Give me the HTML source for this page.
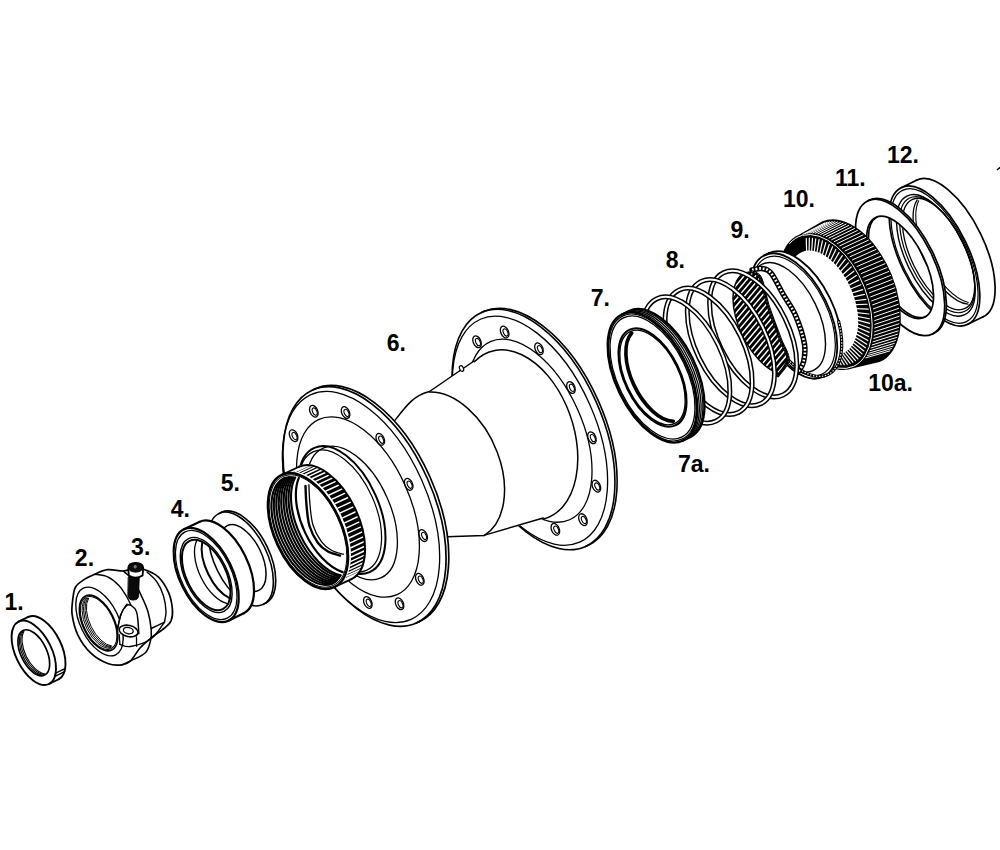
<!DOCTYPE html>
<html><head><meta charset="utf-8"><style>html,body{margin:0;padding:0;background:#fff}svg{display:block}</style></head>
<body><svg width="1000" height="850" viewBox="0 0 1000 850" stroke-linejoin="round" stroke-linecap="round">
<rect width="1000" height="850" fill="#fff"/>
<path d="M967.82 324.31A76 34.2 64 0 1 901.18 187.69L916.46 180.24A76 34.2 64 0 1 983.1 316.86Z" fill="#fff" fill-rule="evenodd" stroke="none"/>
<line x1="967.82" y1="324.31" x2="983.1" y2="316.86" stroke="#000" stroke-width="1.7"/>
<line x1="901.18" y1="187.69" x2="916.46" y2="180.24" stroke="#000" stroke-width="1.7"/>
<path d="M916.46 180.24A76 34.2 64 0 1 983.1 316.86" fill="none" stroke="#000" stroke-width="1.7"/>
<ellipse cx="934.5" cy="256" rx="76" ry="34.2" transform="rotate(64 934.5 256)" fill="none" stroke="#000" stroke-width="1.7"/>
<ellipse cx="934.5" cy="256" rx="73" ry="32.85" transform="rotate(64 934.5 256)" fill="none" stroke="#000" stroke-width="1.2"/>
<ellipse cx="935.85" cy="255.34" rx="66" ry="29.7" transform="rotate(64 935.85 255.34)" fill="none" stroke="#000" stroke-width="1.4"/>
<ellipse cx="937.2" cy="254.68" rx="63" ry="28.35" transform="rotate(64 937.2 254.68)" fill="none" stroke="#000" stroke-width="1.2"/>
<ellipse cx="938.54" cy="254.03" rx="60.5" ry="27.23" transform="rotate(64 938.54 254.03)" fill="none" stroke="#000" stroke-width="1.3"/>
<path d="M967.99 304.14A60 27 64 0 1 917.19 199.97" fill="none" stroke="#000" stroke-width="1.3"/>
<path d="M968.29 302.46A60 27 64 0 1 918.69 200.77" fill="none" stroke="#000" stroke-width="1.1"/>
<path d="M932.54 333.91A74 34.04 64 0 1 867.66 200.89L869.46 200.01A74 34.04 64 0 1 934.34 333.03ZM876.69 217.12A55.5 25.53 64 0 1 925.31 316.81L925.31 316.81A55.5 25.53 64 0 1 876.69 217.12Z" fill="#fff" fill-rule="evenodd" stroke="none"/>
<line x1="932.54" y1="333.91" x2="934.34" y2="333.03" stroke="#000" stroke-width="1.7"/>
<line x1="867.66" y1="200.89" x2="869.46" y2="200.01" stroke="#000" stroke-width="1.7"/>
<path d="M869.46 200.01A74 34.04 64 0 1 934.34 333.03" fill="none" stroke="#000" stroke-width="1.7"/>
<ellipse cx="900.1" cy="267.4" rx="74" ry="34.04" transform="rotate(64 900.1 267.4)" fill="none" stroke="#000" stroke-width="1.7"/>
<ellipse cx="900.1" cy="267.4" rx="55.5" ry="25.53" transform="rotate(64 900.1 267.4)" fill="none" stroke="#000" stroke-width="1.7"/>
<path d="M925.31 316.81A55.5 25.53 64 0 1 876.69 217.12" fill="none" stroke="#000" stroke-width="1.7"/>
<path d="M852.97 368.26A72 41.76 68 0 1 799.03 234.74L822.53 221.13A76 44.08 68 0 1 879.47 362.07ZM842.92 353.03A54.5 31.61 68 1 1 802.08 251.97A54.5 31.61 68 1 1 842.92 353.03" fill="#000" fill-rule="evenodd" stroke="none"/>
<path d="M802.86 234.31L824.65 223.01M805.21 233.62L827.08 222.3M807.64 233.18L829.6 221.84M810.14 232.97L832.19 221.62M812.71 232.99L834.84 221.65M815.33 233.26L837.56 221.92M818 233.76L840.32 222.44M820.7 234.49L843.11 223.2M823.43 235.45L845.94 224.2M826.18 236.65L848.78 225.43M828.93 238.06L851.63 226.9M831.68 239.7L854.48 228.59M834.42 241.55L857.32 230.51M837.14 243.6L860.13 232.63M839.83 245.86L862.92 234.97M842.48 248.31L865.66 237.5M845.07 250.94L868.35 240.22M847.61 253.74L870.97 243.13M850.08 256.71L873.53 246.2M852.48 259.83L876.01 249.43M854.79 263.09L878.4 252.81M857.01 266.49L880.7 256.33M859.12 270L882.89 259.96M861.13 273.63L884.97 263.71M863.03 277.34L886.93 267.56M864.8 281.14L888.77 271.49M866.45 285.01L890.47 275.49M867.96 288.93L892.04 279.55M869.33 292.89L893.46 283.65M870.56 296.87L894.73 287.78M871.64 300.88L895.85 291.92M872.57 304.88L896.81 296.06M873.34 308.86L897.61 300.19M873.96 312.82L898.25 304.28M874.41 316.73L898.72 308.33M874.71 320.58L899.03 312.33M874.84 324.37L899.16 316.25M874.81 328.07L899.13 320.08M874.62 331.68L898.93 323.81M874.26 335.18L898.56 327.43M873.75 338.55L898.03 330.93M873.07 341.79L897.33 334.28M872.24 344.89L896.46 337.49M871.25 347.84L895.44 340.54M870.11 350.61L894.27 343.41M868.83 353.22L892.94 346.11M867.4 355.63L891.46 348.61M865.84 357.86L889.84 350.91" stroke="#fff" stroke-width="1.0" fill="none"/>
<path d="M806.63 251.76L806.27 238.44M809.1 251.56L809.34 238.18M811.65 251.66L812.51 238.3M814.26 252.06L815.76 238.8M816.93 252.77L819.08 239.68M819.63 253.77L822.43 240.93M822.34 255.07L825.8 242.54M825.06 256.65L829.18 244.51M827.76 258.51L832.54 246.82M830.43 260.63L835.85 249.46M833.05 263.01L839.11 252.41M835.61 265.62L842.29 255.66M838.09 268.45L845.37 259.18M840.47 271.49L848.34 262.96M842.75 274.72L851.17 266.96M844.91 278.11L853.85 271.18M846.93 281.64L856.36 275.58M848.8 285.31L858.69 280.13M850.52 289.07L860.83 284.81M852.07 292.92L862.75 289.59M853.44 296.82L864.46 294.44M854.62 300.76L865.93 299.34M855.62 304.71L867.16 304.25M856.41 308.65L868.15 309.14M857 312.55L868.88 313.99M857.38 316.38L869.36 318.76M857.55 320.14L869.57 323.42M857.51 323.79L869.52 327.96M857.27 327.31L869.21 332.34M856.81 330.68L868.64 336.53M856.14 333.88L867.82 340.51M855.28 336.9L866.74 344.26M854.22 339.71L865.42 347.75M852.96 342.29L863.87 350.96M851.53 344.63L862.08 353.87M849.92 346.73L860.08 356.47M848.14 348.55L857.87 358.74M846.21 350.1L855.47 360.67M844.14 351.37L852.9 362.24M841.94 352.34L850.16 363.44M839.62 353.01L847.28 364.28M837.2 353.37L844.27 364.73M834.69 353.43L841.15 364.81M832.11 353.19L837.94 364.51M829.47 352.64L834.66 363.82M826.78 351.79L831.32 362.77M824.08 350.64L827.96 361.34M821.36 349.21L824.58 359.56M818.65 347.49L821.21 357.43M815.96 345.51L817.87 354.96M813.31 343.26L814.58 352.17M810.72 340.77L811.36 349.07M808.2 338.05L808.22 345.69M805.76 335.12L805.19 342.04M803.42 331.99L802.29 338.15M801.2 328.68L799.53 334.05" stroke="#fff" stroke-width="1.2" fill="none"/>
<path d="M789.57 243.58A70.5 40.89 68 1 1 804.19 344.8" fill="none" stroke="#fff" stroke-width="1.0"/>
<path d="M823.59 376.67A67.5 35.1 64 0 1 764.41 255.33L768.9 253.14A67.5 35.1 64 0 1 828.08 374.48Z" fill="#fff" fill-rule="evenodd" stroke="none"/>
<line x1="823.59" y1="376.67" x2="828.08" y2="374.48" stroke="#000" stroke-width="1.8"/>
<line x1="764.41" y1="255.33" x2="768.9" y2="253.14" stroke="#000" stroke-width="1.8"/>
<path d="M768.9 253.14A67.5 35.1 64 0 1 828.08 374.48" fill="none" stroke="#000" stroke-width="1.8"/>
<ellipse cx="794" cy="316" rx="67.5" ry="35.1" transform="rotate(64 794 316)" fill="none" stroke="#000" stroke-width="1.8"/>
<ellipse cx="794" cy="316" rx="64.5" ry="33.54" transform="rotate(64 794 316)" fill="none" stroke="#000" stroke-width="1.2"/>
<ellipse cx="787.7" cy="317.3" rx="59" ry="30.68" transform="rotate(64 787.7 317.3)" fill="none" stroke="#000" stroke-width="1.4"/>
<path d="M838.62 321.45A67.5 35.1 64 0 1 779.81 350.13" fill="none" stroke="#000" stroke-width="3.2"/>
<path d="M838.62 321.45A67.5 35.1 64 0 1 779.81 350.13" fill="none" stroke="#fff" stroke-width="1.2" stroke-dasharray="1.4 1.6" stroke-linecap="butt"/>
<path d="M752 270C753.67 269.75 758.83 268 762 268.5C765.17 269 767.47 268.68 771 273C774.53 277.32 779.1 287.3 783.2 294.4C787.3 301.5 792.07 307.37 795.6 315.6C799.13 323.83 803.08 336.07 804.4 343.8C805.72 351.53 804.57 357.3 803.5 362C802.43 366.7 798.92 370.33 798 372" fill="none" stroke="#000" stroke-width="5.5"/>
<path d="M752 270C753.67 269.75 758.83 268 762 268.5C765.17 269 767.47 268.68 771 273C774.53 277.32 779.1 287.3 783.2 294.4C787.3 301.5 792.07 307.37 795.6 315.6C799.13 323.83 803.08 336.07 804.4 343.8C805.72 351.53 804.57 357.3 803.5 362C802.43 366.7 798.92 370.33 798 372" fill="none" stroke="#fff" stroke-width="2.6" stroke-dasharray="1.8 1.8" stroke-linecap="butt"/>
<clipPath id="clip1"><path d="M777.53 373A55.4 28.81 64 0 1 751.61 271.83C753.02 272.63 757.82 272.57 760.6 278.3C763.38 284.03 764.88 295.7 768.2 305.9C771.52 316.1 777.18 330.58 780.5 339.5C783.82 348.42 788.52 353.38 788.1 359.4C787.68 365.42 779.68 372.9 778 375.6Z"/></clipPath>
<g clip-path="url(#clip1)">
<path d="M777.53 373A55.4 28.81 64 0 1 751.61 271.83C753.02 272.63 757.82 272.57 760.6 278.3C763.38 284.03 764.88 295.7 768.2 305.9C771.52 316.1 777.18 330.58 780.5 339.5C783.82 348.42 788.52 353.38 788.1 359.4C787.68 365.42 779.68 372.9 778 375.6Z" fill="#000"/>
<path d="M573.1 336.02L742.92 133.63M576.47 338.85L746.29 136.46M579.84 341.67L749.66 139.29M583.21 344.5L753.03 142.12M586.58 347.33L756.41 144.94M589.95 350.16L759.78 147.77M593.32 352.99L763.15 150.6M596.69 355.81L766.52 153.43M600.07 358.64L769.89 156.26M603.44 361.47L773.26 159.08M606.81 364.3L776.63 161.91M610.18 367.13L780 164.74M613.55 369.96L783.37 167.57M616.92 372.78L786.74 170.4M620.29 375.61L790.11 173.23M623.66 378.44L793.48 176.05M627.03 381.27L796.85 178.88M630.4 384.1L800.22 181.71M633.77 386.93L803.59 184.54M637.14 389.75L806.96 187.37M640.51 392.58L810.33 190.2M643.88 395.41L813.71 193.02M647.25 398.24L817.08 195.85M650.62 401.07L820.45 198.68M653.99 403.9L823.82 201.51M657.37 406.72L827.19 204.34M660.74 409.55L830.56 207.17M664.11 412.38L833.93 209.99M667.48 415.21L837.3 212.82M670.85 418.04L840.67 215.65M674.22 420.87L844.04 218.48M677.59 423.69L847.41 221.31M680.96 426.52L850.78 224.13M684.33 429.35L854.15 226.96M687.7 432.18L857.52 229.79M691.07 435.01L860.89 232.62M694.44 437.83L864.26 235.45M697.81 440.66L867.63 238.28M701.18 443.49L871.01 241.1M704.55 446.32L874.38 243.93M707.92 449.15L877.75 246.76M711.29 451.98L881.12 249.59M714.67 454.8L884.49 252.42M718.04 457.63L887.86 255.25M721.41 460.46L891.23 258.07M724.78 463.29L894.6 260.9M728.15 466.12L897.97 263.73M731.52 468.95L901.34 266.56M734.89 471.77L904.71 269.39M738.26 474.6L908.08 272.22M741.63 477.43L911.45 275.04M745 480.26L914.82 277.87M748.37 483.09L918.19 280.7M751.74 485.92L921.56 283.53M755.11 488.74L924.93 286.36M758.48 491.57L928.31 289.19M761.85 494.4L931.68 292.01M765.22 497.23L935.05 294.84M768.59 500.06L938.42 297.67M771.97 502.88L941.79 300.5M775.34 505.71L945.16 303.33M778.71 508.54L948.53 306.15M782.08 511.37L951.9 308.98" stroke="#fff" stroke-width="1.5" fill="none"/>
</g>
<path d="M751.5 271.5C753.02 272.63 757.82 272.57 760.6 278.3C763.38 284.03 764.88 295.7 768.2 305.9C771.52 316.1 777.18 330.58 780.5 339.5C783.82 348.42 788.52 353.38 788.1 359.4C787.68 365.42 779.68 372.9 778 375.6" fill="none" stroke="#000" stroke-width="3.2" />
<path d="M751.5 271.5C753.02 272.63 757.82 272.57 760.6 278.3C763.38 284.03 764.88 295.7 768.2 305.9C771.52 316.1 777.18 330.58 780.5 339.5C783.82 348.42 788.52 353.38 788.1 359.4C787.68 365.42 779.68 372.9 778 375.6" fill="none" stroke="#fff" stroke-width="1.2" stroke-dasharray="1.5 1.7" stroke-linecap="butt"/>
<path d="M777.53 373A55.4 28.81 64 0 1 751.61 271.83C753.02 272.63 757.82 272.57 760.6 278.3C763.38 284.03 764.88 295.7 768.2 305.9C771.52 316.1 777.18 330.58 780.5 339.5C783.82 348.42 788.52 353.38 788.1 359.4C787.68 365.42 779.68 372.9 778 375.6Z" fill="none" stroke="#000" stroke-width="1.4"/>
<ellipse cx="753.2" cy="333.9" rx="68" ry="35.36" transform="rotate(64 753.2 333.9)" fill="none" stroke="#000" stroke-width="5.0"/>
<ellipse cx="753.2" cy="333.9" rx="68" ry="35.36" transform="rotate(64 753.2 333.9)" fill="none" stroke="#fff" stroke-width="2.0"/>
<ellipse cx="730.9" cy="342.6" rx="68" ry="35.36" transform="rotate(64 730.9 342.6)" fill="none" stroke="#000" stroke-width="5.0"/>
<ellipse cx="730.9" cy="342.6" rx="68" ry="35.36" transform="rotate(64 730.9 342.6)" fill="none" stroke="#fff" stroke-width="2.0"/>
<ellipse cx="708.6" cy="351.3" rx="68" ry="35.36" transform="rotate(64 708.6 351.3)" fill="none" stroke="#000" stroke-width="5.0"/>
<ellipse cx="708.6" cy="351.3" rx="68" ry="35.36" transform="rotate(64 708.6 351.3)" fill="none" stroke="#fff" stroke-width="2.0"/>
<ellipse cx="686.3" cy="360" rx="68" ry="35.36" transform="rotate(64 686.3 360)" fill="none" stroke="#000" stroke-width="5.0"/>
<ellipse cx="686.3" cy="360" rx="68" ry="35.36" transform="rotate(64 686.3 360)" fill="none" stroke="#fff" stroke-width="2.0"/>
<path d="M683.19 440.42A70 36.4 64 0 1 621.81 314.58L629 311.08A70 36.4 64 0 1 690.38 436.91Z" fill="#fff" fill-rule="evenodd" stroke="none"/>
<line x1="683.19" y1="440.42" x2="690.38" y2="436.91" stroke="#000" stroke-width="2.3"/>
<line x1="621.81" y1="314.58" x2="629" y2="311.08" stroke="#000" stroke-width="2.3"/>
<path d="M629 311.08A70 36.4 64 0 1 690.38 436.91" fill="none" stroke="#000" stroke-width="2.3"/>
<ellipse cx="652.5" cy="377.5" rx="70" ry="36.4" transform="rotate(64 652.5 377.5)" fill="none" stroke="#000" stroke-width="2.3"/>
<ellipse cx="652.5" cy="377.5" rx="53" ry="27.56" transform="rotate(64 652.5 377.5)" fill="none" stroke="#000" stroke-width="2.2"/>
<path d="M629.02 311.94A70 36.4 64 0 1 689.71 436.36" fill="none" stroke="#000" stroke-width="1.3"/>
<path d="M630.82 311.07A70 36.4 64 0 1 691.51 435.48" fill="none" stroke="#000" stroke-width="1.3"/>
<path d="M632.62 310.19A70 36.4 64 0 1 693.3 434.61" fill="none" stroke="#000" stroke-width="1.3"/>
<ellipse cx="652.5" cy="377.5" rx="68.3" ry="35.52" transform="rotate(64 652.5 377.5)" fill="none" stroke="#000" stroke-width="1.2"/>
<ellipse cx="652.5" cy="377.5" rx="66.3" ry="34.48" transform="rotate(64 652.5 377.5)" fill="none" stroke="#000" stroke-width="1.3"/>
<ellipse cx="652.5" cy="377.5" rx="51" ry="26.52" transform="rotate(64 652.5 377.5)" fill="none" stroke="#000" stroke-width="1.3"/>
<path d="M673.35 421.23A50 26 64 0 1 631.77 333.09" fill="none" stroke="#000" stroke-width="3.6"/>
<path d="M585.56 546.43A128 68.48 66 0 1 481.44 312.57L484.18 311.35A128 68.48 66 0 1 588.3 545.21Z" fill="#fff" fill-rule="evenodd" stroke="none"/>
<line x1="585.56" y1="546.43" x2="588.3" y2="545.21" stroke="#000" stroke-width="1.6"/>
<line x1="481.44" y1="312.57" x2="484.18" y2="311.35" stroke="#000" stroke-width="1.6"/>
<path d="M484.18 311.35A128 68.48 66 0 1 588.3 545.21" fill="none" stroke="#000" stroke-width="1.6"/>
<ellipse cx="533.5" cy="429.5" rx="128" ry="68.48" transform="rotate(66 533.5 429.5)" fill="none" stroke="#000" stroke-width="1.6"/>
<ellipse cx="530" cy="430.7" rx="122" ry="65.27" transform="rotate(66 530 430.7)" fill="none" stroke="#000" stroke-width="1.3"/>
<ellipse cx="555.37" cy="529.33" rx="6.2" ry="3.84" transform="rotate(66 555.37 529.33)" fill="#fff" stroke="#000" stroke-width="1.3"/>
<ellipse cx="556.27" cy="529.68" rx="3.84" ry="2.11" transform="rotate(66 556.27 529.68)" fill="none" stroke="#000" stroke-width="1.105"/>
<ellipse cx="520.99" cy="512.58" rx="6.2" ry="3.84" transform="rotate(66 520.99 512.58)" fill="#fff" stroke="#000" stroke-width="1.3"/>
<ellipse cx="521.89" cy="512.93" rx="3.84" ry="2.11" transform="rotate(66 521.89 512.93)" fill="none" stroke="#000" stroke-width="1.105"/>
<ellipse cx="489.02" cy="473.89" rx="6.2" ry="3.84" transform="rotate(66 489.02 473.89)" fill="#fff" stroke="#000" stroke-width="1.3"/>
<ellipse cx="489.92" cy="474.24" rx="3.84" ry="2.11" transform="rotate(66 489.92 474.24)" fill="none" stroke="#000" stroke-width="1.105"/>
<ellipse cx="468.04" cy="423.63" rx="6.2" ry="3.84" transform="rotate(66 468.04 423.63)" fill="#fff" stroke="#000" stroke-width="1.3"/>
<ellipse cx="468.94" cy="423.98" rx="3.84" ry="2.11" transform="rotate(66 468.94 423.98)" fill="none" stroke="#000" stroke-width="1.105"/>
<ellipse cx="463.65" cy="375.26" rx="6.2" ry="3.84" transform="rotate(66 463.65 375.26)" fill="#fff" stroke="#000" stroke-width="1.3"/>
<ellipse cx="464.55" cy="375.61" rx="3.84" ry="2.11" transform="rotate(66 464.55 375.61)" fill="none" stroke="#000" stroke-width="1.105"/>
<ellipse cx="477.05" cy="341.74" rx="6.2" ry="3.84" transform="rotate(66 477.05 341.74)" fill="#fff" stroke="#000" stroke-width="1.3"/>
<ellipse cx="477.95" cy="342.09" rx="3.84" ry="2.11" transform="rotate(66 477.95 342.09)" fill="none" stroke="#000" stroke-width="1.105"/>
<ellipse cx="504.63" cy="332.07" rx="6.2" ry="3.84" transform="rotate(66 504.63 332.07)" fill="#fff" stroke="#000" stroke-width="1.3"/>
<ellipse cx="505.53" cy="332.42" rx="3.84" ry="2.11" transform="rotate(66 505.53 332.42)" fill="none" stroke="#000" stroke-width="1.105"/>
<ellipse cx="539.01" cy="348.82" rx="6.2" ry="3.84" transform="rotate(66 539.01 348.82)" fill="#fff" stroke="#000" stroke-width="1.3"/>
<ellipse cx="539.91" cy="349.17" rx="3.84" ry="2.11" transform="rotate(66 539.91 349.17)" fill="none" stroke="#000" stroke-width="1.105"/>
<ellipse cx="570.98" cy="387.51" rx="6.2" ry="3.84" transform="rotate(66 570.98 387.51)" fill="#fff" stroke="#000" stroke-width="1.3"/>
<ellipse cx="571.88" cy="387.86" rx="3.84" ry="2.11" transform="rotate(66 571.88 387.86)" fill="none" stroke="#000" stroke-width="1.105"/>
<ellipse cx="591.96" cy="437.77" rx="6.2" ry="3.84" transform="rotate(66 591.96 437.77)" fill="#fff" stroke="#000" stroke-width="1.3"/>
<ellipse cx="592.86" cy="438.12" rx="3.84" ry="2.11" transform="rotate(66 592.86 438.12)" fill="none" stroke="#000" stroke-width="1.105"/>
<ellipse cx="596.35" cy="486.14" rx="6.2" ry="3.84" transform="rotate(66 596.35 486.14)" fill="#fff" stroke="#000" stroke-width="1.3"/>
<ellipse cx="597.25" cy="486.49" rx="3.84" ry="2.11" transform="rotate(66 597.25 486.49)" fill="none" stroke="#000" stroke-width="1.105"/>
<ellipse cx="582.95" cy="519.66" rx="6.2" ry="3.84" transform="rotate(66 582.95 519.66)" fill="#fff" stroke="#000" stroke-width="1.3"/>
<ellipse cx="583.85" cy="520.01" rx="3.84" ry="2.11" transform="rotate(66 583.85 520.01)" fill="none" stroke="#000" stroke-width="1.105"/>
<ellipse cx="530" cy="430.7" rx="97.5" ry="52.16" transform="rotate(66 530 430.7)" fill="none" stroke="#000" stroke-width="1.3"/>
<path d="M394.9 420.4 C406 406 414 395 429.5 391.5 L474 361 L474.44 361.74A87.9 55.82 71.4 1 1 543.51 519.03 L483.9 535.4 L446.8 536.6 L420 540 Z" fill="#fff" fill-rule="evenodd" stroke="none"/>
<path d="M474.44 361.74A87.9 55.82 71.4 1 1 543.51 519.03" fill="none" stroke="#000" stroke-width="1.5"/>
<path d="M394.9 420.4 C406 406 414 395 429.5 391.5 L474 361" fill="none" stroke="#000" stroke-width="1.5"/>
<path d="M440 537 L483.9 535.4 L543.2 518" fill="none" stroke="#000" stroke-width="1.5"/>
<path d="M429.51 392.02A78.2 50.67 65.8 0 1 484.04 535.68" fill="none" stroke="#000" stroke-width="1.5"/>
<ellipse cx="461.5" cy="368.5" rx="3" ry="1.94" transform="rotate(65.8 461.5 368.5)" fill="#fff" stroke="#000" stroke-width="1.2"/>
<path d="M416.36 622.98A127.5 68.85 66 0 1 312.64 390.02L315.38 388.8A127.5 68.85 66 0 1 419.1 621.76Z" fill="#fff" fill-rule="evenodd" stroke="none"/>
<line x1="416.36" y1="622.98" x2="419.1" y2="621.76" stroke="#000" stroke-width="1.7"/>
<line x1="312.64" y1="390.02" x2="315.38" y2="388.8" stroke="#000" stroke-width="1.7"/>
<path d="M315.38 388.8A127.5 68.85 66 0 1 419.1 621.76" fill="none" stroke="#000" stroke-width="1.7"/>
<ellipse cx="364.5" cy="506.5" rx="127.5" ry="68.85" transform="rotate(66 364.5 506.5)" fill="none" stroke="#000" stroke-width="1.7"/>
<ellipse cx="361" cy="507" rx="123" ry="66.42" transform="rotate(66 361 507)" fill="none" stroke="#000" stroke-width="1.3"/>
<ellipse cx="399.57" cy="603.79" rx="6.2" ry="3.84" transform="rotate(66 399.57 603.79)" fill="#fff" stroke="#000" stroke-width="1.3"/>
<ellipse cx="400.47" cy="604.14" rx="3.84" ry="2.11" transform="rotate(66 400.47 604.14)" fill="none" stroke="#000" stroke-width="1.105"/>
<ellipse cx="367.83" cy="602.46" rx="6.2" ry="3.84" transform="rotate(66 367.83 602.46)" fill="#fff" stroke="#000" stroke-width="1.3"/>
<ellipse cx="368.73" cy="602.81" rx="3.84" ry="2.11" transform="rotate(66 368.73 602.81)" fill="none" stroke="#000" stroke-width="1.105"/>
<ellipse cx="333.11" cy="575.69" rx="6.2" ry="3.84" transform="rotate(66 333.11 575.69)" fill="#fff" stroke="#000" stroke-width="1.3"/>
<ellipse cx="334.01" cy="576.04" rx="3.84" ry="2.11" transform="rotate(66 334.01 576.04)" fill="none" stroke="#000" stroke-width="1.105"/>
<ellipse cx="304.7" cy="530.65" rx="6.2" ry="3.84" transform="rotate(66 304.7 530.65)" fill="#fff" stroke="#000" stroke-width="1.3"/>
<ellipse cx="305.6" cy="531" rx="3.84" ry="2.11" transform="rotate(66 305.6 531)" fill="none" stroke="#000" stroke-width="1.105"/>
<ellipse cx="290.24" cy="479.4" rx="6.2" ry="3.84" transform="rotate(66 290.24 479.4)" fill="#fff" stroke="#000" stroke-width="1.3"/>
<ellipse cx="291.14" cy="479.75" rx="3.84" ry="2.11" transform="rotate(66 291.14 479.75)" fill="none" stroke="#000" stroke-width="1.105"/>
<ellipse cx="293.58" cy="435.69" rx="6.2" ry="3.84" transform="rotate(66 293.58 435.69)" fill="#fff" stroke="#000" stroke-width="1.3"/>
<ellipse cx="294.48" cy="436.04" rx="3.84" ry="2.11" transform="rotate(66 294.48 436.04)" fill="none" stroke="#000" stroke-width="1.105"/>
<ellipse cx="313.83" cy="411.21" rx="6.2" ry="3.84" transform="rotate(66 313.83 411.21)" fill="#fff" stroke="#000" stroke-width="1.3"/>
<ellipse cx="314.73" cy="411.56" rx="3.84" ry="2.11" transform="rotate(66 314.73 411.56)" fill="none" stroke="#000" stroke-width="1.105"/>
<ellipse cx="345.57" cy="412.54" rx="6.2" ry="3.84" transform="rotate(66 345.57 412.54)" fill="#fff" stroke="#000" stroke-width="1.3"/>
<ellipse cx="346.47" cy="412.89" rx="3.84" ry="2.11" transform="rotate(66 346.47 412.89)" fill="none" stroke="#000" stroke-width="1.105"/>
<ellipse cx="380.29" cy="439.31" rx="6.2" ry="3.84" transform="rotate(66 380.29 439.31)" fill="#fff" stroke="#000" stroke-width="1.3"/>
<ellipse cx="381.19" cy="439.66" rx="3.84" ry="2.11" transform="rotate(66 381.19 439.66)" fill="none" stroke="#000" stroke-width="1.105"/>
<ellipse cx="408.7" cy="484.35" rx="6.2" ry="3.84" transform="rotate(66 408.7 484.35)" fill="#fff" stroke="#000" stroke-width="1.3"/>
<ellipse cx="409.6" cy="484.7" rx="3.84" ry="2.11" transform="rotate(66 409.6 484.7)" fill="none" stroke="#000" stroke-width="1.105"/>
<ellipse cx="423.16" cy="535.6" rx="6.2" ry="3.84" transform="rotate(66 423.16 535.6)" fill="#fff" stroke="#000" stroke-width="1.3"/>
<ellipse cx="424.06" cy="535.95" rx="3.84" ry="2.11" transform="rotate(66 424.06 535.95)" fill="none" stroke="#000" stroke-width="1.105"/>
<ellipse cx="419.82" cy="579.31" rx="6.2" ry="3.84" transform="rotate(66 419.82 579.31)" fill="#fff" stroke="#000" stroke-width="1.3"/>
<ellipse cx="420.72" cy="579.66" rx="3.84" ry="2.11" transform="rotate(66 420.72 579.66)" fill="none" stroke="#000" stroke-width="1.105"/>
<ellipse cx="358" cy="507" rx="96" ry="51.84" transform="rotate(66 358 507)" fill="none" stroke="#000" stroke-width="1.3"/>
<ellipse cx="352" cy="513" rx="71" ry="38.34" transform="rotate(66 352 513)" fill="none" stroke="#000" stroke-width="1.3"/>
<ellipse cx="342" cy="510" rx="68" ry="36.72" transform="rotate(66 342 510)" fill="none" stroke="#000" stroke-width="2.0"/>
<ellipse cx="340" cy="511" rx="65" ry="35.1" transform="rotate(66 340 511)" fill="none" stroke="#000" stroke-width="1.2"/>
<path d="M334.2 587.19A62 33.48 65 0 1 281.8 474.81L299.02 466.78A62 33.48 65 0 1 351.42 579.16Z" fill="#fff" fill-rule="evenodd" stroke="none"/>
<path d="M284.97 473.33A62 33.48 65 0 1 337.37 585.71L351.42 579.16A62 33.48 65 0 0 299.02 466.78Z" fill="#000" stroke="none"/>
<path d="M286.32 472.77L300.37 466.22M289.15 471.96L303.2 465.41M292.16 471.6L306.21 465.05M295.31 471.68L309.35 465.13M298.58 472.19L312.62 465.64M301.94 473.15L315.99 466.59M305.38 474.53L319.42 467.98M308.86 476.33L322.9 469.78M312.35 478.53L326.4 471.98M315.84 481.13L329.89 474.58M319.29 484.09L333.34 477.54M322.68 487.4L336.73 480.85M325.99 491.02L340.04 484.47M329.18 494.95L343.23 488.39M332.23 499.13L346.28 492.58M335.12 503.54L349.17 496.99M337.84 508.16L351.88 501.61M340.34 512.93L354.39 506.38M342.63 517.84L356.68 511.29M344.68 522.83L358.72 516.28M346.47 527.87L360.52 521.32M347.99 532.92L362.04 526.37M349.23 537.95L363.28 531.4M350.19 542.92L364.23 536.37M350.84 547.78L364.89 541.23M351.2 552.5L365.24 545.95M351.25 557.05L365.29 550.5M350.99 561.39L365.04 554.84M350.43 565.49L364.48 558.94M349.57 569.31L363.62 562.76M348.42 572.83L362.47 566.28M346.99 576.02L361.04 569.47M345.29 578.86L359.33 572.31M343.32 581.32L357.37 574.77M341.11 583.38L355.16 576.83M338.67 585.04L352.72 578.49" stroke="#fff" stroke-width="1.5" fill="none"/>
<line x1="334.2" y1="587.19" x2="351.42" y2="579.16" stroke="#000" stroke-width="1.8"/>
<line x1="281.8" y1="474.81" x2="299.02" y2="466.78" stroke="#000" stroke-width="1.8"/>
<path d="M299.02 466.78A62 33.48 65 0 1 351.42 579.16" fill="none" stroke="#000" stroke-width="2.0"/>
<path d="M284.06 473.75A62 33.48 65 0 1 336.47 586.13" fill="none" stroke="#fff" stroke-width="0.9"/>
<ellipse cx="308" cy="531" rx="62" ry="33.48" transform="rotate(65 308 531)" fill="none" stroke="#000" stroke-width="2.4"/>
<ellipse cx="308" cy="531" rx="60" ry="32.4" transform="rotate(65 308 531)" fill="none" stroke="#000" stroke-width="1.0"/>
<path d="M332.67 583.47A58 31.32 65 0 1 283.67 478.37" fill="none" stroke="#000" stroke-width="2.1"/>
<path d="M333.85 582.79A58 31.32 65 0 1 284.94 477.91" fill="none" stroke="#000" stroke-width="2.1"/>
<path d="M334.98 582.01A58 31.32 65 0 1 286.26 477.54" fill="none" stroke="#000" stroke-width="2.1"/>
<path d="M336.06 581.14A58 31.32 65 0 1 287.63 477.28" fill="none" stroke="#000" stroke-width="2.1"/>
<path d="M337.09 580.16A58 31.32 65 0 1 289.04 477.11" fill="none" stroke="#000" stroke-width="2.1"/>
<path d="M338.08 579.08A58 31.32 65 0 1 290.51 477.05" fill="none" stroke="#000" stroke-width="2.1"/>
<path d="M339.02 577.89A58 31.32 65 0 1 292.02 477.09" fill="none" stroke="#000" stroke-width="2.1"/>
<path d="M339.91 576.59A58 31.32 65 0 1 293.59 477.25" fill="none" stroke="#000" stroke-width="2.1"/>
<path d="M340.75 575.18A58 31.32 65 0 1 295.21 477.51" fill="none" stroke="#000" stroke-width="2.1"/>
<path d="M342.62 572.11A58 31.32 65 0 1 298.76 478.06" fill="none" stroke="#000" stroke-width="2.2"/>
<path d="M305.5 486C305.67 489.17 305.83 498.33 306.5 505C307.17 511.67 307.58 519.67 309.5 526C311.42 532.33 314.92 538.75 318 543C321.08 547.25 324.33 549.42 328 551.5C331.67 553.58 338 554.83 340 555.5" fill="none" stroke="#000" stroke-width="2.4"/>
<path d="M308.9 484.7C309.07 487.87 309.23 497.03 309.9 503.7C310.57 510.37 310.98 518.37 312.9 524.7C314.82 531.03 318.32 537.45 321.4 541.7C324.48 545.95 327.73 548.12 331.4 550.2C335.07 552.28 341.4 553.53 343.4 554.2" fill="none" stroke="#000" stroke-width="1.3"/>
<path d="M263.14 604.39A50.5 26.26 64 0 1 218.86 513.61L221.56 512.3A50.5 26.26 64 0 1 265.83 603.07Z" fill="#fff" fill-rule="evenodd" stroke="none"/>
<line x1="263.14" y1="604.39" x2="265.83" y2="603.07" stroke="#000" stroke-width="1.6"/>
<line x1="218.86" y1="513.61" x2="221.56" y2="512.3" stroke="#000" stroke-width="1.6"/>
<path d="M221.56 512.3A50.5 26.26 64 0 1 265.83 603.07" fill="none" stroke="#000" stroke-width="1.6"/>
<ellipse cx="241" cy="559" rx="50.5" ry="26.26" transform="rotate(64 241 559)" fill="none" stroke="#000" stroke-width="1.6"/>
<ellipse cx="243" cy="558" rx="36" ry="18.72" transform="rotate(64 243 558)" fill="none" stroke="#000" stroke-width="1.5"/>
<path d="M228.47 620.66A50.8 26.42 64 0 1 183.93 529.34L199.21 521.89A50.8 26.42 64 0 1 243.75 613.21ZM202.3 541.91A37.9 19.71 64 0 1 229.87 598.44L229.87 598.44A37.9 19.71 64 0 1 202.3 541.91Z" fill="#fff" fill-rule="evenodd" stroke="none"/>
<line x1="228.47" y1="620.66" x2="243.75" y2="613.21" stroke="#000" stroke-width="2.2"/>
<line x1="183.93" y1="529.34" x2="199.21" y2="521.89" stroke="#000" stroke-width="2.2"/>
<path d="M199.21 521.89A50.8 26.42 64 0 1 243.75 613.21" fill="none" stroke="#000" stroke-width="2.2"/>
<ellipse cx="206.2" cy="575" rx="50.8" ry="26.42" transform="rotate(64 206.2 575)" fill="none" stroke="#000" stroke-width="2.2"/>
<ellipse cx="206.2" cy="575" rx="37.9" ry="19.71" transform="rotate(64 206.2 575)" fill="none" stroke="#000" stroke-width="2.0"/>
<path d="M229.87 598.44A37.9 19.71 64 0 1 202.3 541.91" fill="none" stroke="#000" stroke-width="2.0"/>
<ellipse cx="206.2" cy="575" rx="48" ry="24.96" transform="rotate(64 206.2 575)" fill="none" stroke="#000" stroke-width="1.2"/>
<ellipse cx="206.2" cy="575" rx="40.5" ry="21.06" transform="rotate(64 206.2 575)" fill="none" stroke="#000" stroke-width="1.4"/>
<path d="M228.02 603.77A37.9 19.71 64 0 1 196.96 540.09" fill="none" stroke="#000" stroke-width="1.3"/>
<path d="M72.8 598.8C73.23 596.87 73.47 590.43 75.4 587.2C77.33 583.97 81.17 581.57 84.4 579.4C87.63 577.23 90.92 575.82 94.8 574.2C98.68 572.58 102.97 570.23 107.7 569.7C112.43 569.17 118.98 571.2 123.2 571C127.42 570.8 129.77 568.83 133 568.5C136.23 568.17 138.4 567.62 142.6 569C146.8 570.38 153.88 572.9 158.2 576.8C162.52 580.7 166.13 587 168.5 592.4C170.87 597.8 171.97 604.47 172.4 609.2C172.83 613.93 172.4 617.67 171.1 620.8C169.8 623.93 167.92 625.17 164.6 628C161.28 630.83 155.3 634.47 151.2 637.8C147.1 641.13 143.43 644.15 140 648C136.57 651.85 133.62 658.1 130.6 660.9C127.58 663.7 125.72 664.37 121.9 664.8C118.08 665.23 112.87 665.43 107.7 663.5C102.53 661.57 95.87 657.93 90.9 653.2C85.93 648.47 81.03 641.57 77.9 635.1C74.77 628.63 72.95 620.45 72.1 614.4C71.25 608.35 72.68 601.4 72.8 598.8Z" fill="#fff" stroke="#000" stroke-width="1.7"/>
<path d="M147 572C148.67 573.67 154.25 578 157 582C159.75 586 162 591.08 163.5 596C165 600.92 165.85 607.08 166 611.5C166.15 615.92 164.67 620.67 164.4 622.5" fill="none" stroke="#000" stroke-width="1.4"/>
<path d="M151.2 628.5C153.4 627.45 162.2 623.25 164.4 622.2" fill="none" stroke="#000" stroke-width="1.4"/>
<path d="M119.9 644.4C121.68 644.75 125.38 647.45 130.6 646.5C135.82 645.55 145.57 642.75 151.2 638.7C156.83 634.65 162.2 624.95 164.4 622.2" fill="none" stroke="#000" stroke-width="1.4"/>
<path d="M123.2 571C124.83 572.5 130.03 576 133 580C135.97 584 138.52 589.75 141 595C143.48 600.25 146.2 605.73 147.9 611.5C149.6 617.27 150.78 624.67 151.2 629.6C151.62 634.53 151.37 637.25 150.4 641.1C149.43 644.95 148.7 649.4 145.4 652.7C142.1 656 134.52 658.88 130.6 660.9C126.68 662.92 123.35 664.15 121.9 664.8" fill="none" stroke="#000" stroke-width="1.5"/>
<path d="M94.8 574.2C96.95 574.63 103.6 574.85 107.7 576.8C111.8 578.75 116.17 582.45 119.4 585.9C122.63 589.35 124.95 593.82 127.1 597.5C129.25 601.18 131.43 606.25 132.3 608" fill="none" stroke="#000" stroke-width="1.4"/>
<ellipse cx="99.5" cy="621.5" rx="37" ry="19.24" transform="rotate(64 99.5 621.5)" fill="none" stroke="#000" stroke-width="1.4"/>
<ellipse cx="98.6" cy="623" rx="30" ry="15.6" transform="rotate(64 98.6 623)" fill="none" stroke="#000" stroke-width="1.7"/>
<ellipse cx="98.6" cy="623" rx="28.5" ry="14.82" transform="rotate(64 98.6 623)" fill="none" stroke="#000" stroke-width="1.0"/>
<path d="M110.11 648.18A28 14.56 64 0 1 85.84 598.43" fill="none" stroke="#000" stroke-width="1.0"/>
<path d="M110.71 647.58A28 14.56 64 0 1 86.69 598.32" fill="none" stroke="#000" stroke-width="1.0"/>
<path d="M111.29 646.9A28 14.56 64 0 1 87.58 598.29" fill="none" stroke="#000" stroke-width="1.0"/>
<path d="M111.83 646.14A28 14.56 64 0 1 88.51 598.33" fill="none" stroke="#000" stroke-width="1.0"/>
<path d="M117.4 631C117.95 628.3 119.18 619.02 120.7 614.8C122.22 610.58 124.72 607.22 126.5 605.7C128.28 604.18 129.75 604.73 131.4 605.7C133.05 606.67 135.3 608.88 136.4 611.5C137.5 614.12 137.6 617.7 138 621.4C138.4 625.1 138.67 631.65 138.8 633.7" fill="#fff" stroke="#000" stroke-width="1.5"/>
<path d="M117.4 628C118.17 625.33 120.4 616 122 612C123.6 608 126.17 605.33 127 604" fill="none" stroke="#000" stroke-width="1.2"/>
<ellipse cx="128.6" cy="631" rx="9.6" ry="5.6" transform="rotate(12 128.6 631)" fill="#fff" stroke="#000" stroke-width="1.6"/>
<ellipse cx="128.3" cy="630.6" rx="5" ry="3.1" transform="rotate(12 128.3 630.6)" fill="#fff" stroke="#000" stroke-width="1.3"/>
<path d="M119.2 634.5C119.32 636.15 119.78 642.75 119.9 644.4" fill="none" stroke="#000" stroke-width="1.3"/>
<path d="M136.5 637C136.52 638.55 136.58 644.75 136.6 646.3" fill="none" stroke="#000" stroke-width="1.3"/>
<path d="M128.6 577 L139.2 577 L138.6 595.5 Q138.3 600 133.3 600 Q128 600 127.9 595.5 Z" fill="#0a0a0a" stroke="#000" stroke-width="1"/>
<path d="M128.3 568.5 Q128.5 563 135.7 563 Q143 563 143.2 568.5 L142.6 575.5 Q135.5 580 128.8 575.5 Z" fill="#fff" stroke="#000" stroke-width="1.8"/>
<ellipse cx="135.7" cy="567.6" rx="7.4" ry="4.5" fill="#0d0d0d" stroke="#000" stroke-width="1"/>
<ellipse cx="135.2" cy="566.8" rx="1.6" ry="1.8" fill="#777" stroke="none"/>
<path d="M49.01 683.99A34.7 18.04 64 0 1 18.59 621.61L28.3 616.88A34.7 18.04 64 0 1 58.72 679.25Z" fill="#fff" fill-rule="evenodd" stroke="none"/>
<line x1="49.01" y1="683.99" x2="58.72" y2="679.25" stroke="#000" stroke-width="1.9"/>
<line x1="18.59" y1="621.61" x2="28.3" y2="616.88" stroke="#000" stroke-width="1.9"/>
<path d="M28.3 616.88A34.7 18.04 64 0 1 58.72 679.25" fill="none" stroke="#000" stroke-width="1.9"/>
<ellipse cx="33.8" cy="652.8" rx="34.7" ry="18.04" transform="rotate(64 33.8 652.8)" fill="none" stroke="#000" stroke-width="1.9"/>
<ellipse cx="33.8" cy="652.8" rx="24.8" ry="12.9" transform="rotate(64 33.8 652.8)" fill="none" stroke="#000" stroke-width="1.7"/>
<path d="M43.43 675.08A24.8 12.9 64 0 1 22.17 631.5" fill="none" stroke="#000" stroke-width="1.1"/>
<path d="M43.97 674.43A24.8 12.9 64 0 1 23.01 631.47" fill="none" stroke="#000" stroke-width="1.1"/>
<path d="M44.47 673.7A24.8 12.9 64 0 1 23.9 631.52" fill="none" stroke="#000" stroke-width="1.1"/>
<line x1="55.69" y1="673.09" x2="65.39" y2="668.36" stroke="#000" stroke-width="1.4"/>
<line x1="54.92" y1="676.38" x2="64.63" y2="671.64" stroke="#000" stroke-width="1.4"/>
<line x1="55.69" y1="673.09" x2="54.92" y2="676.38" stroke="#000" stroke-width="1.4"/>
<text x="4.4" y="610" style="font-family:'Liberation Sans', sans-serif;font-weight:bold;font-size:23px">1.</text>
<text x="74.85" y="565.6" style="font-family:'Liberation Sans', sans-serif;font-weight:bold;font-size:23px">2.</text>
<text x="131.1" y="554.8" style="font-family:'Liberation Sans', sans-serif;font-weight:bold;font-size:23px">3.</text>
<text x="170.7" y="517.2" style="font-family:'Liberation Sans', sans-serif;font-weight:bold;font-size:23px">4.</text>
<text x="220.65" y="490.7" style="font-family:'Liberation Sans', sans-serif;font-weight:bold;font-size:23px">5.</text>
<text x="386.7" y="351" style="font-family:'Liberation Sans', sans-serif;font-weight:bold;font-size:23px">6.</text>
<text x="590.7" y="305.8" style="font-family:'Liberation Sans', sans-serif;font-weight:bold;font-size:23px">7.</text>
<text x="665.75" y="268" style="font-family:'Liberation Sans', sans-serif;font-weight:bold;font-size:23px">8.</text>
<text x="730.5" y="237.6" style="font-family:'Liberation Sans', sans-serif;font-weight:bold;font-size:23px">9.</text>
<text x="783" y="207.1" style="font-family:'Liberation Sans', sans-serif;font-weight:bold;font-size:23px">10.</text>
<text x="834.9" y="186.1" style="font-family:'Liberation Sans', sans-serif;font-weight:bold;font-size:23px">11.</text>
<text x="887" y="163" style="font-family:'Liberation Sans', sans-serif;font-weight:bold;font-size:23px">12.</text>
<text x="677.9" y="471.7" style="font-family:'Liberation Sans', sans-serif;font-weight:bold;font-size:23px">7a.</text>
<text x="868.2" y="391.2" style="font-family:'Liberation Sans', sans-serif;font-weight:bold;font-size:23px">10a.</text>
<line x1="997.5" y1="169.5" x2="1000" y2="167.5" stroke="#000" stroke-width="1.5"/>
</svg></body></html>
